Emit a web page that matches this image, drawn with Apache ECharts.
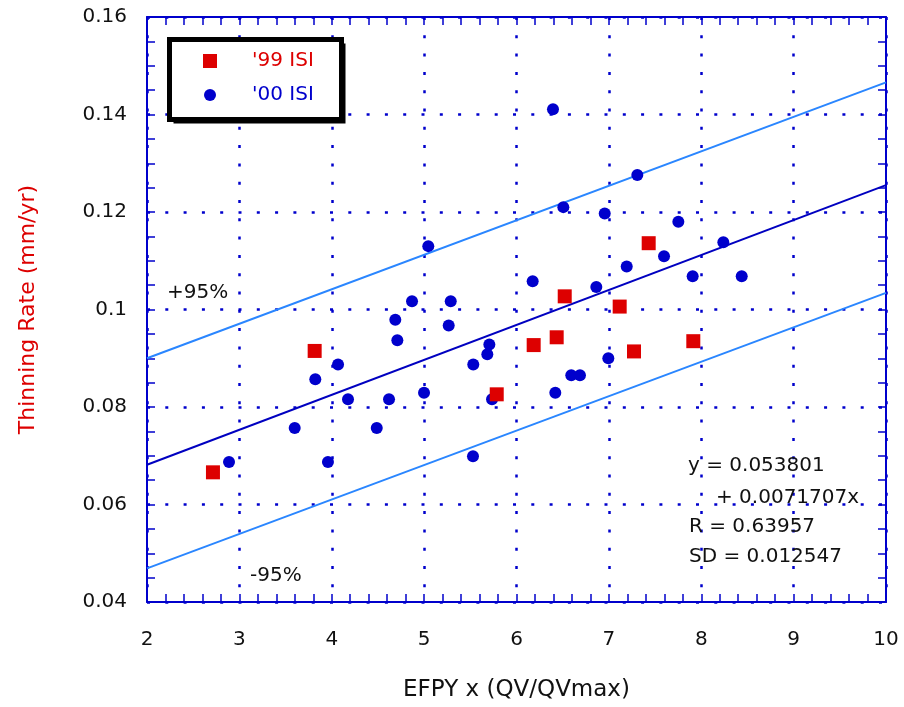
<!DOCTYPE html>
<html>
<head>
<meta charset="utf-8">
<title>Thinning Rate vs EFPY</title>
<script src="https://cdn.jsdelivr.net/npm/echarts@6/dist/echarts.min.js"></script>
<style>
  html, body { margin: 0; padding: 0; background: #ffffff; }
  #chart { width: 904px; height: 707px; }
</style>
</head>
<body>
<div id="chart"></div>
<script>
// '99 ISI inspections
const isi99X = [2.714, 3.815, 5.786, 6.186, 6.435, 6.522, 7.117, 7.272, 7.431, 7.914];
const isi99Y = [0.0666, 0.0915, 0.0826, 0.0927, 0.0943, 0.1027, 0.1006, 0.0914, 0.1136, 0.0935];

// '00 ISI inspections
const isi00X = [2.888, 3.599, 3.822, 3.959, 4.068, 4.176, 4.487, 4.620, 4.688, 4.710,
                4.869, 4.999, 5.045, 5.266, 5.288, 5.532, 5.529, 5.684, 5.706, 5.735,
                6.175, 6.395, 6.420, 6.507, 6.593, 6.687, 6.864, 6.955, 6.994, 7.193,
                7.308, 7.597, 7.752, 7.907, 8.239, 8.438];
const isi00Y = [0.0687, 0.0757, 0.0857, 0.0687, 0.0887, 0.0816, 0.0757, 0.0816, 0.0979, 0.0937,
                0.1017, 0.0829, 0.1130, 0.0967, 0.1017, 0.0887, 0.0699, 0.0908, 0.0928, 0.0816,
                0.1058, 0.1411, 0.0829, 0.1210, 0.0865, 0.0865, 0.1046, 0.1197, 0.0900, 0.1088,
                0.1276, 0.1109, 0.1180, 0.1068, 0.1138, 0.1068];

// Linear fit and its statistics
const fitIntercept = 0.053801;
const fitSlope = 0.0071707;
const fitR = 0.63957;
const fitSD = 0.012547;
const fitRangeX = [2, 10];

// 95% band end points (at x = 2 and x = 10)
const upperBandY = [0.0900, 0.1466];
const lowerBandY = [0.0469, 0.1034];

// Axis ranges
const xRange = [2, 10];
const xStep = 1;
const yRange = [0.04, 0.16];
const yStep = 0.02;

const seriesNames = ["'99 ISI", "'00 ISI"];
const axisTitles = ['EFPY x (QV/QVmax)', 'Thinning Rate (mm/yr)'];

const FONT = '"DejaVu Sans", "Liberation Sans", sans-serif';
const AXIS_BLUE = '#0000cc';
const RED = '#dd0000';
const BLUE = '#0000cc';
const INK = '#111111';

const zip = (xs, ys) => xs.map((x, i) => [x, ys[i]]);
const fitLine = fitRangeX.map(x => [x, fitIntercept + fitSlope * x]);
const upperLine = fitRangeX.map((x, i) => [x, upperBandY[i]]);
const lowerLine = fitRangeX.map((x, i) => [x, lowerBandY[i]]);

const frameLine = { show: true, onZero: false, lineStyle: { color: AXIS_BLUE, width: 2 } };
const frameTick = { show: true, inside: true, length: 8, lineStyle: { color: AXIS_BLUE, width: 1.5 } };
const minorTicks = n => ({ show: true, splitNumber: n, length: 8, lineStyle: { color: AXIS_BLUE, width: 1.5 } });

const gridDots = { show: true, lineStyle: { color: AXIS_BLUE, width: 2.5, type: [3, 15.3] } };

const chart = echarts.init(document.getElementById('chart'), null, { renderer: 'canvas' });

const annotation = (text, x, y) => ({
  type: 'text', z: 60, x: x, y: y,
  style: { text: text, font: '20px ' + FONT, fill: INK, align: 'left', verticalAlign: 'middle' }
});

// one legend block per series so each marker keeps its own size
const legendEntry = (name, color, size, top) => ({
  data: [{ name: name, textStyle: { color: color } }],
  left: 210 - size / 2, top: top, padding: 0, orient: 'vertical', z: 100,
  itemWidth: size, itemHeight: size, itemGap: 0, selectedMode: false,
  textStyle: { fontFamily: FONT, fontSize: 20, padding: [0, 0, 0, 252 - (210 + size / 2) - 5] }
});

const option = {
  animation: false,
  backgroundColor: '#ffffff',
  grid: { left: 147, right: 18, top: 17, bottom: 104, containLabel: false },
  xAxis: [
    {
      type: 'value', min: xRange[0], max: xRange[1], interval: xStep, position: 'bottom',
      axisLine: frameLine, axisTick: frameTick, minorTick: minorTicks(5),
      splitLine: gridDots,
      axisLabel: { show: true, margin: 28, fontFamily: FONT, fontSize: 20, color: INK },
      name: axisTitles[0], nameLocation: 'middle', nameGap: 77,
      nameTextStyle: { fontFamily: FONT, fontSize: 23, color: INK }
    },
    {
      type: 'value', min: xRange[0], max: xRange[1], interval: xStep, position: 'top',
      axisLine: frameLine, axisTick: frameTick, minorTick: minorTicks(5),
      axisLabel: { show: false }, splitLine: { show: false }
    }
  ],
  yAxis: [
    {
      type: 'value', min: yRange[0], max: yRange[1], interval: yStep, position: 'left',
      axisLine: frameLine, axisTick: frameTick, minorTick: minorTicks(4),
      splitLine: gridDots,
      axisLabel: { show: true, margin: 20, fontFamily: FONT, fontSize: 20, color: INK },
      name: axisTitles[1], nameLocation: 'middle', nameGap: 108, nameRotate: 90,
      nameTextStyle: { fontFamily: FONT, fontSize: 22, color: RED }
    },
    {
      type: 'value', min: yRange[0], max: yRange[1], interval: yStep, position: 'right',
      axisLine: frameLine, axisTick: frameTick, minorTick: minorTicks(4),
      axisLabel: { show: false }, splitLine: { show: false }
    }
  ],
  legend: [
    legendEntry(seriesNames[0], RED, 14, 51),
    legendEntry(seriesNames[1], BLUE, 12, 85)
  ],
  graphic: [
    // legend frame with drop shadow
    { type: 'rect', z: 50, shape: { x: 173.5, y: 43.5, width: 172, height: 80 },
      style: { fill: '#000000' } },
    { type: 'rect', z: 51, shape: { x: 169.5, y: 39.5, width: 172, height: 80 },
      style: { fill: '#ffffff', stroke: '#000000', lineWidth: 5 } },
    annotation('+95%', 167, 293),
    annotation('-95%', 250, 576),
    annotation('y = ' + fitIntercept, 688, 466),
    annotation('+ ' + fitSlope + 'x', 716, 498),
    annotation('R = ' + fitR, 689, 527),
    annotation('SD = ' + fitSD, 689, 557)
  ],
  series: [
    { type: 'line', name: 'upper95', data: upperLine, showSymbol: false, silent: true, z: 2,
      lineStyle: { color: '#2a86ff', width: 2 } },
    { type: 'line', name: 'lower95', data: lowerLine, showSymbol: false, silent: true, z: 2,
      lineStyle: { color: '#2a86ff', width: 2 } },
    { type: 'line', name: 'fit', data: fitLine, showSymbol: false, silent: true, z: 2,
      lineStyle: { color: '#0000c0', width: 2 } },
    { type: 'scatter', name: seriesNames[1], data: zip(isi00X, isi00Y), symbol: 'circle', symbolSize: 12, z: 3,
      itemStyle: { color: BLUE, opacity: 1 } },
    { type: 'scatter', name: seriesNames[0], data: zip(isi99X, isi99Y), symbol: 'rect', symbolSize: 14, z: 4,
      itemStyle: { color: RED, opacity: 1 } }
  ]
};

chart.setOption(option);
</script>
</body>
</html>
